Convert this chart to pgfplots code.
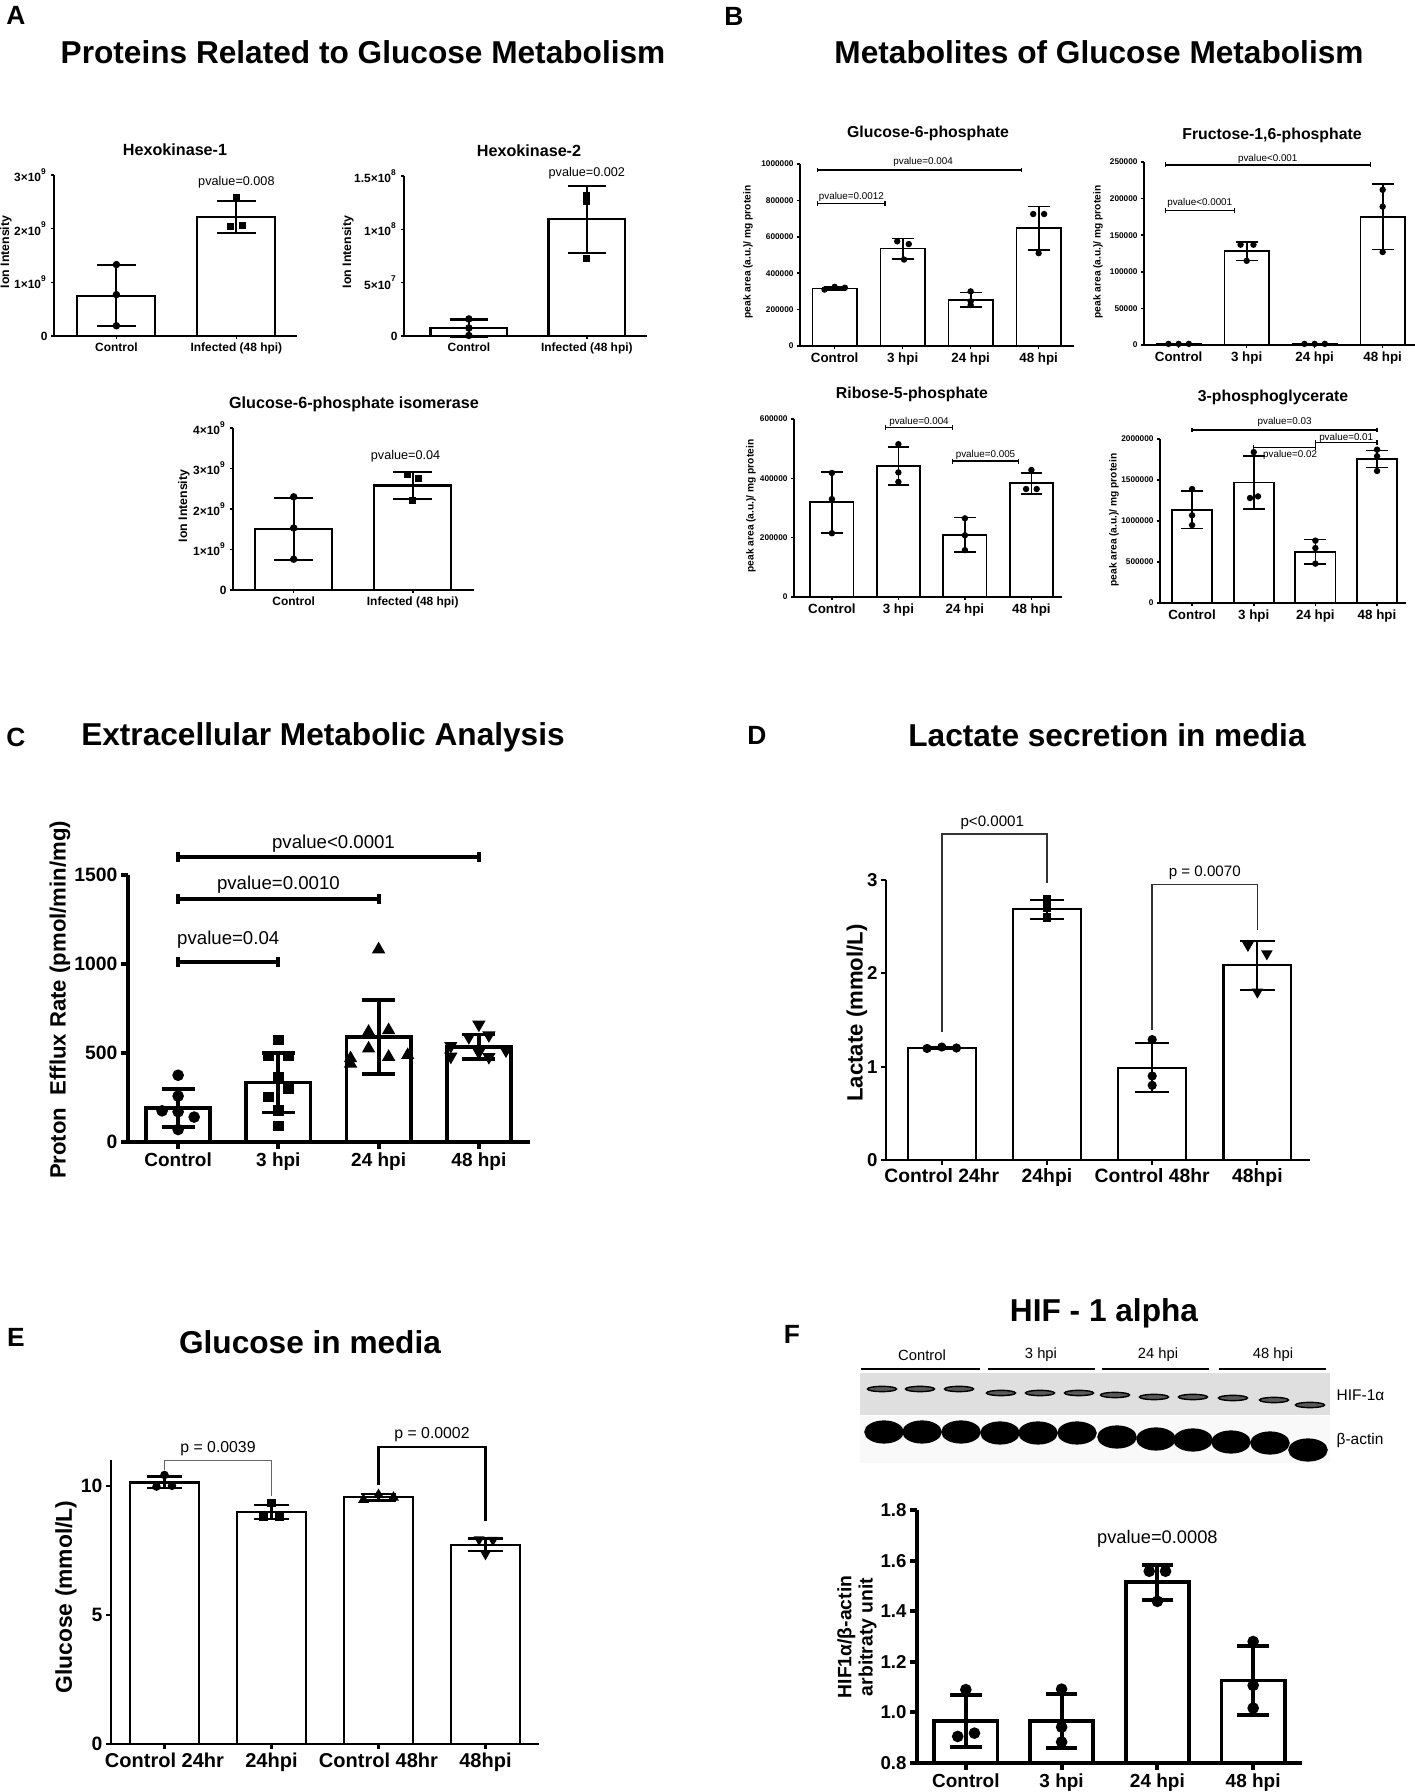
\documentclass[border=0pt]{standalone}
\usepackage{fontspec}
\setmainfont{Liberation Sans}
\usepackage{pgfplots}
\pgfplotsset{compat=1.18}
\newcommand\fs[1]{\fontsize{#1}{#1}\selectfont}
\pgfplotsset{
  gp/.style n args={3}{scale only axis, axis lines=left, axis line style={-, line width=#1, black},
    clip=false, enlargelimits=false, tick align=outside, major tick length=#2,
    tick style={line width=#1, black}, tick label style={font=#3, black, inner sep=0.8pt},
    scaled ticks=false, ymin=0, /pgf/number format/assume math mode=true, anchor=south west},
  gpbar/.style={ybar, bar width=0.65, bar shift=0pt, fill=white, draw=black, line width=#1},
  gperr/.style 2 args={draw=none, mark=none, forget plot,
    /pgfplots/error bars/y dir=both, /pgfplots/error bars/y explicit,
    /pgfplots/error bars/error bar style={draw=black, line width=#1, solid},
    /pgfplots/error bars/error mark options={draw=black, rotate=90, mark size=#2, line width=#1, solid}},
  gppts/.style 2 args={only marks, mark=#1, mark size=#2, black, mark options={fill=black, solid}},
  gpbr/.style 2 args={black, line width=#1, mark=|, mark size=#2, mark options={line width=#1, solid}},
}
\begin{document}
\begin{tikzpicture}
\useasboundingbox (0,0) rectangle (141.5mm,179.2mm);
% ---------- titles ----------
\node[font=\fs{7.5}\bfseries] at (1.6mm,177.7mm) {A};
\node[font=\fs{9}\bfseries] at (36.3mm,174.0mm) {Proteins Related to Glucose Metabolism};
\node[font=\fs{7.5}\bfseries] at (73.4mm,177.6mm) {B};
\node[font=\fs{9}\bfseries] at (109.9mm,174.0mm) {Metabolites of Glucose Metabolism};
\node[font=\fs{7.5}\bfseries] at (1.6mm,105.5mm) {C};
\node[font=\fs{9}\bfseries] at (32.3mm,105.5mm) {Extracellular Metabolic Analysis};
\node[font=\fs{7.5}\bfseries] at (75.7mm,105.7mm) {D};
\node[font=\fs{9}\bfseries] at (110.7mm,105.7mm) {Lactate secretion in media};
\node[font=\fs{7.5}\bfseries] at (1.6mm,45.5mm) {E};
\node[font=\fs{9}\bfseries] at (31.0mm,45.0mm) {Glucose in media};
\node[font=\fs{7.5}\bfseries] at (79.2mm,45.8mm) {F};
\node[font=\fs{9}\bfseries] at (110.4mm,47.9mm) {HIF - 1 alpha};
% subplot titles
\node[font=\fs{4.6}\bfseries] at (17.5mm,164.2mm) {Hexokinase-1};
\node[font=\fs{4.6}\bfseries] at (52.9mm,164.1mm) {Hexokinase-2};
\node[font=\fs{4.6}\bfseries] at (35.4mm,138.8mm) {Glucose-6-phosphate isomerase};
\node[font=\fs{4.5}\bfseries] at (92.8mm,165.9mm) {Glucose-6-phosphate};
\node[font=\fs{4.5}\bfseries] at (127.2mm,165.7mm) {Fructose-1,6-phosphate};
\node[font=\fs{4.5}\bfseries] at (91.2mm,139.8mm) {Ribose-5-phosphate};
\node[font=\fs{4.5}\bfseries] at (127.3mm,139.5mm) {3-phosphoglycerate};
% y labels
\node[rotate=90,font=\fs{3.5}\bfseries] at (0.6mm,154.0mm) {Ion Intensity};
\node[rotate=90,font=\fs{3.5}\bfseries] at (34.8mm,154.0mm) {Ion Intensity};
\node[rotate=90,font=\fs{3.5}\bfseries] at (18.4mm,128.6mm) {Ion Intensity};
\node[rotate=90,font=\fs{2.9}\bfseries] at (74.8mm,154.0mm) {peak area (a.u.)/ mg protein};
\node[rotate=90,font=\fs{2.9}\bfseries] at (109.8mm,154.0mm) {peak area (a.u.)/ mg protein};
\node[rotate=90,font=\fs{2.9}\bfseries] at (75.1mm,128.6mm) {peak area (a.u.)/ mg protein};
\node[rotate=90,font=\fs{2.9}\bfseries] at (111.4mm,127.2mm) {peak area (a.u.)/ mg protein};
\node[rotate=90,font=\fs{6.3}\bfseries] at (6.0mm,79.2mm) {Proton\ \ Efflux Rate (pmol/min/mg)};
\node[rotate=90,font=\fs{6.3}\bfseries] at (85.7mm,77.9mm) {Lactate (mmol/L)};
\node[rotate=90,font=\fs{6.5}\bfseries] at (6.6mm,19.5mm) {Glucose (mmol/L)};
\node[rotate=90,font=\fontsize{5.5}{6}\selectfont\bfseries,align=center] at (85.7mm,15.5mm) {HIF1α/β-actin\\arbitraty unit};

% ---------- A1 Hexokinase-1 ----------
\begin{axis}[gp={0.45pt}{0.3mm}{\fs{3.4}\bfseries}, at={(5.4mm,145.6mm)}, width=24.3mm, height=16.1mm,
  xmin=-0.52, xmax=1.505, ymax=3e9, ytick={0,1e9,2e9,3e9},
  yticklabels={0,1×10\textsuperscript{9},2×10\textsuperscript{9},3×10\textsuperscript{9}},
  xtick={0,1}, xticklabels={Control,Infected (48 hpi)}, xticklabel style={font=\fs{3.4}\bfseries}]
\addplot[gpbar=0.6pt] coordinates {(0,0.75e9) (1,2.22e9)};
\addplot[gperr={0.6pt}{5.5pt}] coordinates {(0,0.75e9) +- (0,0.57e9) (1,2.22e9) +- (0,0.30e9)};
\addplot[gppts={*}{0.85pt}] coordinates {(0,1.33e9) (0,0.77e9) (0,0.19e9)};
\addplot[gppts={square*}{0.8pt}] coordinates {(1,2.58e9) (0.95,2.04e9) (1.05,2.06e9)};
\node[font=\fs{3.6}] at (axis cs:1,2.87e9) {pvalue=0.008};
\end{axis}
% ---------- A2 Hexokinase-2 ----------
\begin{axis}[gp={0.45pt}{0.3mm}{\fs{3.4}\bfseries}, at={(40.4mm,145.6mm)}, width=24.3mm, height=16.0mm,
  xmin=-0.55, xmax=1.51, ymax=1.5e8, ytick={0,5e7,1e8,1.5e8},
  yticklabels={0,5×10\textsuperscript{7},1×10\textsuperscript{8},1.5×10\textsuperscript{8}},
  xtick={0,1}, xticklabels={Control,Infected (48 hpi)}, xticklabel style={font=\fs{3.4}\bfseries}]
\addplot[gpbar=0.6pt] coordinates {(0,0.75e7) (1,1.095e8)};
\addplot[gperr={0.6pt}{5.5pt}] coordinates {(0,0.75e7) +- (0,0.8e7) (1,1.095e8) +- (0,3.15e7)};
\addplot[gppts={*}{0.85pt}] coordinates {(0,1.6e7) (0,0.75e7) (0,0.05e7)};
\addplot[gppts={square*}{0.8pt}] coordinates {(1,1.32e8) (1,1.26e8) (1,0.73e8)};
\node[font=\fs{3.6}] at (axis cs:1,1.53e8) {pvalue=0.002};
\end{axis}
% ---------- A3 G6P isomerase ----------
\begin{axis}[gp={0.45pt}{0.3mm}{\fs{3.4}\bfseries}, at={(23.3mm,120.2mm)}, width=24.1mm, height=16.2mm,
  xmin=-0.51, xmax=1.515, ymax=4e9, ytick={0,1e9,2e9,3e9,4e9},
  yticklabels={0,1×10\textsuperscript{9},2×10\textsuperscript{9},3×10\textsuperscript{9},4×10\textsuperscript{9}},
  xtick={0,1}, xticklabels={Control,Infected (48 hpi)}, xticklabel style={font=\fs{3.4}\bfseries}]
\addplot[gpbar=0.6pt] coordinates {(0,1.51e9) (1,2.58e9)};
\addplot[gperr={0.6pt}{5.5pt}] coordinates {(0,1.51e9) +- (0,0.77e9) (1,2.58e9) +- (0,0.33e9)};
\addplot[gppts={*}{0.85pt}] coordinates {(0,2.3e9) (0,1.53e9) (0,0.76e9)};
\addplot[gppts={square*}{0.8pt}] coordinates {(0.955,2.85e9) (1.05,2.75e9) (1,2.2e9)};
\node[font=\fs{3.6}] at (axis cs:0.94,3.31e9) {pvalue=0.04};
\end{axis}

% ---------- B1 Glucose-6-phosphate ----------
\begin{axis}[gp={0.45pt}{0.3mm}{\fs{2.35}\bfseries}, at={(80.0mm,144.6mm)}, width=27.4mm, height=18.2mm,
  xmin=-0.51, xmax=3.52, ymax=1e6, ytick={0,2e5,4e5,6e5,8e5,1e6},
  yticklabels={0,200000,400000,600000,800000,1000000},
  xtick={0,1,2,3}, xticklabels={Control,3 hpi,24 hpi,48 hpi}, xticklabel style={font=\fs{3.8}\bfseries}]
\addplot[gpbar=0.5pt] coordinates {(0,316000) (1,535000) (2,254000) (3,647000)};
\addplot[gperr={0.5pt}{3.1pt}] coordinates {(0,316000) +- (0,10000) (1,535000) +- (0,55000) (2,254000) +- (0,40000) (3,647000) +- (0,120000)};
\addplot[gppts={*}{0.7pt}] coordinates {(-0.15,310000) (0,325000) (0.15,320000) (0.92,575000) (1.09,560000) (1.02,475000) (2,300000) (2,245000) (2,225000) (2.92,725000) (3.08,725000) (3,510000)};
\addplot[gpbr={0.35pt}{0.7pt}] coordinates {(-0.25,967000) (2.75,967000)};
\addplot[gpbr={0.35pt}{0.7pt}] coordinates {(-0.25,783000) (0.74,783000)};
\node[font=\fs{2.8}] at (axis cs:1.3,1011000) {pvalue=0.004};
\node[font=\fs{2.8}] at (axis cs:0.245,819000) {pvalue=0.0012};
\end{axis}
% ---------- B2 Fructose-1,6-phosphate ----------
\begin{axis}[gp={0.45pt}{0.3mm}{\fs{2.35}\bfseries}, at={(114.4mm,144.7mm)}, width=27.06mm, height=18.3mm,
  xmin=-0.51, xmax=3.47, ymax=250000, ytick={0,50000,100000,150000,200000,250000},
  yticklabels={0,50000,100000,150000,200000,250000},
  xtick={0,1,2,3}, xticklabels={Control,3 hpi,24 hpi,48 hpi}, xticklabel style={font=\fs{3.8}\bfseries}]
\addplot[gpbar=0.5pt] coordinates {(0,1500) (1,128000) (2,1500) (3,175000)};
\addplot[gperr={0.5pt}{3.1pt}] coordinates {(0,1500) +- (0,300) (1,128000) +- (0,12500) (2,1500) +- (0,300) (3,175000) +- (0,44500)};
\addplot[gppts={*}{0.7pt}] coordinates {(-0.15,1500) (0,1500) (0.15,1500) (0.91,137000) (1.1,137000) (1,115000) (1.85,1500) (2,1500) (2.15,1500) (3,212000) (3,189000) (3,127000)};
\addplot[gpbr={0.35pt}{0.7pt}] coordinates {(-0.19,246000) (2.82,246000)};
\addplot[gpbr={0.35pt}{0.7pt}] coordinates {(-0.19,184000) (0.82,184000)};
\node[font=\fs{2.8}] at (axis cs:1.31,254000) {pvalue<0.001};
\node[font=\fs{2.8}] at (axis cs:0.31,194000) {pvalue<0.0001};
\end{axis}
% ---------- B3 Ribose-5-phosphate ----------
\begin{axis}[gp={0.45pt}{0.3mm}{\fs{2.35}\bfseries}, at={(79.4mm,119.5mm)}, width=26.8mm, height=17.8mm,
  xmin=-0.57, xmax=3.46, ymax=600000, ytick={0,200000,400000,600000},
  yticklabels={0,200000,400000,600000},
  xtick={0,1,2,3}, xticklabels={Control,3 hpi,24 hpi,48 hpi}, xticklabel style={font=\fs{3.8}\bfseries}]
\addplot[gpbar=0.5pt] coordinates {(0,319500) (1,441000) (2,210000) (3,383000)};
\addplot[gperr={0.5pt}{3.1pt}] coordinates {(0,319500) +- (0,103000) (1,441000) +- (0,64000) (2,210000) +- (0,58000) (3,383000) +- (0,36000)};
\addplot[gppts={*}{0.7pt}] coordinates {(0,418000) (0,330000) (0,215000) (1,515000) (1,420000) (1,388000) (2,265000) (2,208000) (2,158000) (3,428000) (2.92,364000) (3.08,364000)};
\addplot[gpbr={0.35pt}{0.7pt}] coordinates {(0.81,570000) (1.81,570000)};
\addplot[gpbr={0.35pt}{0.7pt}] coordinates {(1.81,458000) (2.81,458000)};
\node[font=\fs{2.8}] at (axis cs:1.31,590000) {pvalue=0.004};
\node[font=\fs{2.8}] at (axis cs:2.31,479000) {pvalue=0.005};
\end{axis}
% ---------- B4 3-phosphoglycerate ----------
\begin{axis}[gp={0.45pt}{0.3mm}{\fs{2.35}\bfseries}, at={(116.0mm,118.9mm)}, width=24.6mm, height=16.4mm,
  xmin=-0.52, xmax=3.47, ymax=2e6, ytick={0,5e5,1e6,1.5e6,2e6},
  yticklabels={0,500000,1000000,1500000,2000000},
  xtick={0,1,2,3}, xticklabels={Control,3 hpi,24 hpi,48 hpi}, xticklabel style={font=\fs{3.8}\bfseries}]
\addplot[gpbar=0.5pt] coordinates {(0,1137000) (1,1468000) (2,624000) (3,1756000)};
\addplot[gperr={0.5pt}{3.1pt}] coordinates {(0,1137000) +- (0,230000) (1,1468000) +- (0,320000) (2,624000) +- (0,150000) (3,1756000) +- (0,105000)};
\addplot[gppts={*}{0.7pt}] coordinates {(0,1390000) (0,1070000) (0,950000) (1,1840000) (0.94,1280000) (1.07,1300000) (2,760000) (2,670000) (2,480000) (3,1870000) (3,1790000) (3,1610000)};
\addplot[gpbr={0.35pt}{0.7pt}] coordinates {(0,2110000) (3,2110000)};
\addplot[gpbr={0.35pt}{0.7pt}] coordinates {(2,1960000) (3,1960000)};
\addplot[gpbr={0.35pt}{0.7pt}] coordinates {(1,1900000) (2,1900000)};
\node[font=\fs{2.8}] at (axis cs:1.5,2210000) {pvalue=0.03};
\node[font=\fs{2.8}] at (axis cs:2.5,2010000) {pvalue=0.01};
\node[font=\fs{2.8}] at (axis cs:1.59,1805000) {pvalue=0.02};
\end{axis}

% ---------- C ----------
\begin{axis}[gp={1.1pt}{0.7mm}{\fs{5.5}\bfseries}, at={(12.8mm,65.0mm)}, width=40.2mm, height=26.7mm,
  xmin=-0.5, xmax=3.51, ymax=1500, ytick={0,500,1000,1500}, yticklabels={0,500,1000,1500},
  xtick={0,1,2,3}, xticklabels={Control,3 hpi,24 hpi,48 hpi}, xticklabel style={font=\fs{5.4}\bfseries}]
\addplot[gpbar=1.1pt, bar width=0.64] coordinates {(0,191) (1,334) (2,591) (3,534)};
\addplot[gperr={1.1pt}{4.7pt}] coordinates {(0,191) +- (0,105) (1,334) +- (0,168) (2,591) +- (0,207) (3,534) +- (0,70)};
\addplot[gppts={*}{1.45pt}] coordinates {(0,375) (0,258) (-0.16,175) (0,170) (0.16,140) (0,70)};
\addplot[gppts={square*}{1.3pt}] coordinates {(1,572) (0.9,482) (1.1,482) (1,366) (0.9,253) (1.1,300) (1,178) (1,90)};
\addplot[gppts={triangle*}{1.8pt}] coordinates {(2,1082) (1.9,619) (2.1,628) (1.9,525) (2.1,478) (1.72,470) (2.29,488) (1.72,440)};
\addplot[gppts={triangle*}{1.8pt}, mark options={rotate=180}] coordinates {(3,660) (2.9,590) (3.1,600) (2.72,540) (3.27,515) (3,505) (3.1,478) (2.72,480)};
\addplot[gpbr={1.1pt}{1.4pt}] coordinates {(0,1603) (3,1603)};
\addplot[gpbr={1.1pt}{1.4pt}] coordinates {(0,1365) (2,1365)};
\addplot[gpbr={1.1pt}{1.4pt}] coordinates {(0,1012) (1,1012)};
\node[font=\fs{5.3}] at (axis cs:1.55,1674) {pvalue<0.0001};
\node[font=\fs{5.3}] at (axis cs:1.0,1444) {pvalue=0.0010};
\node[font=\fs{5.3}] at (axis cs:0.5,1135) {pvalue=0.04};
\end{axis}

% ---------- D ----------
\begin{axis}[gp={0.6pt}{0.5mm}{\fs{5.3}\bfseries}, at={(88.6mm,63.2mm)}, width=42.4mm, height=28mm,
  xmin=-0.53, xmax=3.5, ymax=3, ytick={0,1,2,3}, yticklabels={0,1,2,3},
  xtick={0,1,2,3}, xticklabels={Control 24hr,24hpi,Control 48hr,48hpi}, xticklabel style={font=\fs{5.5}\bfseries}]
\addplot[gpbar=0.6pt, bar width=0.645] coordinates {(0,1.20) (1,2.686) (2,0.99) (3,2.086)};
\addplot[gperr={0.6pt}{4.9pt}] coordinates {(0,1.20) +- (0,0.01) (1,2.686) +- (0,0.10) (2,0.99) +- (0,0.265) (3,2.086) +- (0,0.265)};
\addplot[gppts={*}{1.1pt}] coordinates {(-0.14,1.195) (0,1.21) (0.14,1.2) (2,1.29) (2,0.90) (2,0.80)};
\addplot[gppts={square*}{1.0pt}] coordinates {(1,2.79) (1,2.70) (1,2.60)};
\addplot[gppts={triangle*}{1.5pt}, mark options={rotate=180}] coordinates {(2.91,2.30) (3.09,2.21) (3,1.80)};
\addplot[black!80, line width=0.45pt] coordinates {(0,1.375) (0,3.49) (1,3.49) (1,2.97)};
\addplot[black!80, line width=0.45pt] coordinates {(2,1.39) (2,2.95) (3,2.95) (3,2.46)};
\node[font=\fs{4.3}] at (axis cs:0.48,3.61) {p<0.0001};
\node[font=\fs{4.3}] at (axis cs:2.5,3.075) {p = 0.0070};
\end{axis}

% ---------- E ----------
\begin{axis}[gp={0.6pt}{0.5mm}{\fs{5.5}\bfseries}, at={(11.1mm,4.8mm)}, width=42.8mm, height=28.4mm,
  xmin=-0.5, xmax=3.5, ymax=11, ytick={0,5,10}, yticklabels={0,5,10},
  xtick={0,1,2,3}, xticklabels={Control 24hr,24hpi,Control 48hr,48hpi}, xticklabel style={font=\fs{5.7}\bfseries}]
\addplot[gpbar=0.6pt] coordinates {(0,10.13) (1,8.97) (2,9.55) (3,7.72)};
\addplot[gperr={0.6pt}{5pt}] coordinates {(0,10.13) +- (0,0.23) (1,8.97) +- (0,0.27) (2,9.55) +- (0,0.12) (3,7.72) +- (0,0.24)};
\addplot[gppts={*}{1.0pt}] coordinates {(0,10.42) (-0.075,9.97) (0.07,10.0)};
\addplot[gppts={square*}{0.95pt}] coordinates {(1,9.33) (0.925,8.81) (1.075,8.81)};
\addplot[gppts={triangle*}{1.4pt}] coordinates {(1.86,9.46) (2,9.65) (2.14,9.55)};
\addplot[gppts={triangle*}{1.4pt}, mark options={rotate=180}] coordinates {(2.94,7.92) (3.07,7.90) (3,7.36)};
\addplot[black!60, line width=0.45pt] coordinates {(0,10.62) (0,10.98) (1,10.98) (1,9.59)};
\addplot[black, line width=0.7pt] coordinates {(2,10.04) (2,11.5) (3,11.5) (3,8.62)};
\node[font=\fs{4.5}] at (axis cs:0.5,11.46) {p = 0.0039};
\node[font=\fs{4.5}] at (axis cs:2.5,11.97) {p = 0.0002};
\end{axis}

% ---------- F blot ----------
\begin{axis}[hide axis, scale only axis, clip=false, at={(85mm,32.9mm)}, anchor=south west,
  width=49mm, height=10mm, xmin=850, xmax=1340, ymin=329, ymax=429]
\fill[gray!25] (axis cs:860,377) rectangle (axis cs:1330,419);
\fill[gray!5] (axis cs:860,329) rectangle (axis cs:1330,376);
\addplot[only marks, mark=*, mark size=0.75pt, mark options={xscale=5.5, draw=none, fill=gray!70!black}] coordinates {
 (882,403) (920,403) (959,403) (1001,399) (1040,399) (1079,399) (1115,397) (1154,395) (1193,395) (1233,394) (1274,392) (1310,387)};
\addplot[only marks, mark=*, mark size=3.1pt, mark options={xscale=1.75, draw=none, fill=black}] coordinates {
 (884,360) (922,360) (961,360) (1000,359) (1038,359) (1077,359) (1117,355) (1156,353) (1193,352) (1231,350) (1270,349) (1308,342)};
\addplot[black, line width=0.75pt] coordinates {(861,423) (980,423)};
\addplot[black, line width=0.75pt] coordinates {(988,423) (1095,423)};
\addplot[black, line width=0.75pt] coordinates {(1102,423) (1209,423)};
\addplot[black, line width=0.75pt] coordinates {(1219,423) (1326,423)};
\node[font=\fs{4.2}] at (axis cs:922,437) {Control};
\node[font=\fs{4.2}] at (axis cs:1041,437) {3 hpi};
\node[font=\fs{4.2}] at (axis cs:1158,437) {24 hpi};
\node[font=\fs{4.2}] at (axis cs:1273,437) {48 hpi};
\node[font=\fs{4.4}, anchor=west, inner sep=0pt] at (axis cs:1336,397) {HIF-1α};
\node[font=\fs{4.4}, anchor=west, inner sep=0pt] at (axis cs:1336,351) {β-actin};
\end{axis}

% ---------- F bars ----------
\begin{axis}[gp={1.1pt}{0.7mm}{\fs{5.3}\bfseries}, clip=true, at={(91.7mm,2.9mm)}, width=38.5mm, height=25.3mm,
  xmin=-0.51, xmax=3.51, ymin=0.8, ymax=1.8, ytick={0.8,1.0,1.2,1.4,1.6,1.8}, yticklabels={0.8,1.0,1.2,1.4,1.6,1.8},
  xtick={0,1,2,3}, xticklabels={Control,3 hpi,24 hpi,48 hpi}, xticklabel style={font=\fs{5.4}\bfseries}]
\addplot[gpbar=1.1pt, bar width=0.66] coordinates {(0,0.966) (1,0.966) (2,1.514) (3,1.126)};
\addplot[gperr={1.1pt}{4.5pt}] coordinates {(0,0.966) +- (0,0.104) (1,0.966) +- (0,0.107) (2,1.514) +- (0,0.07) (3,1.126) +- (0,0.136)};
\addplot[gppts={*}{1.45pt}] coordinates {(0,1.09) (-0.085,0.905) (0.09,0.918) (1,1.092) (1,0.942) (1,0.883) (1.915,1.558) (2.085,1.558) (2,1.439) (3,1.28) (3,1.107) (3,1.017)};
\node[font=\fs{5.2}] at (axis cs:2,1.685) {pvalue=0.0008};
\end{axis}
\end{tikzpicture}
\end{document}
